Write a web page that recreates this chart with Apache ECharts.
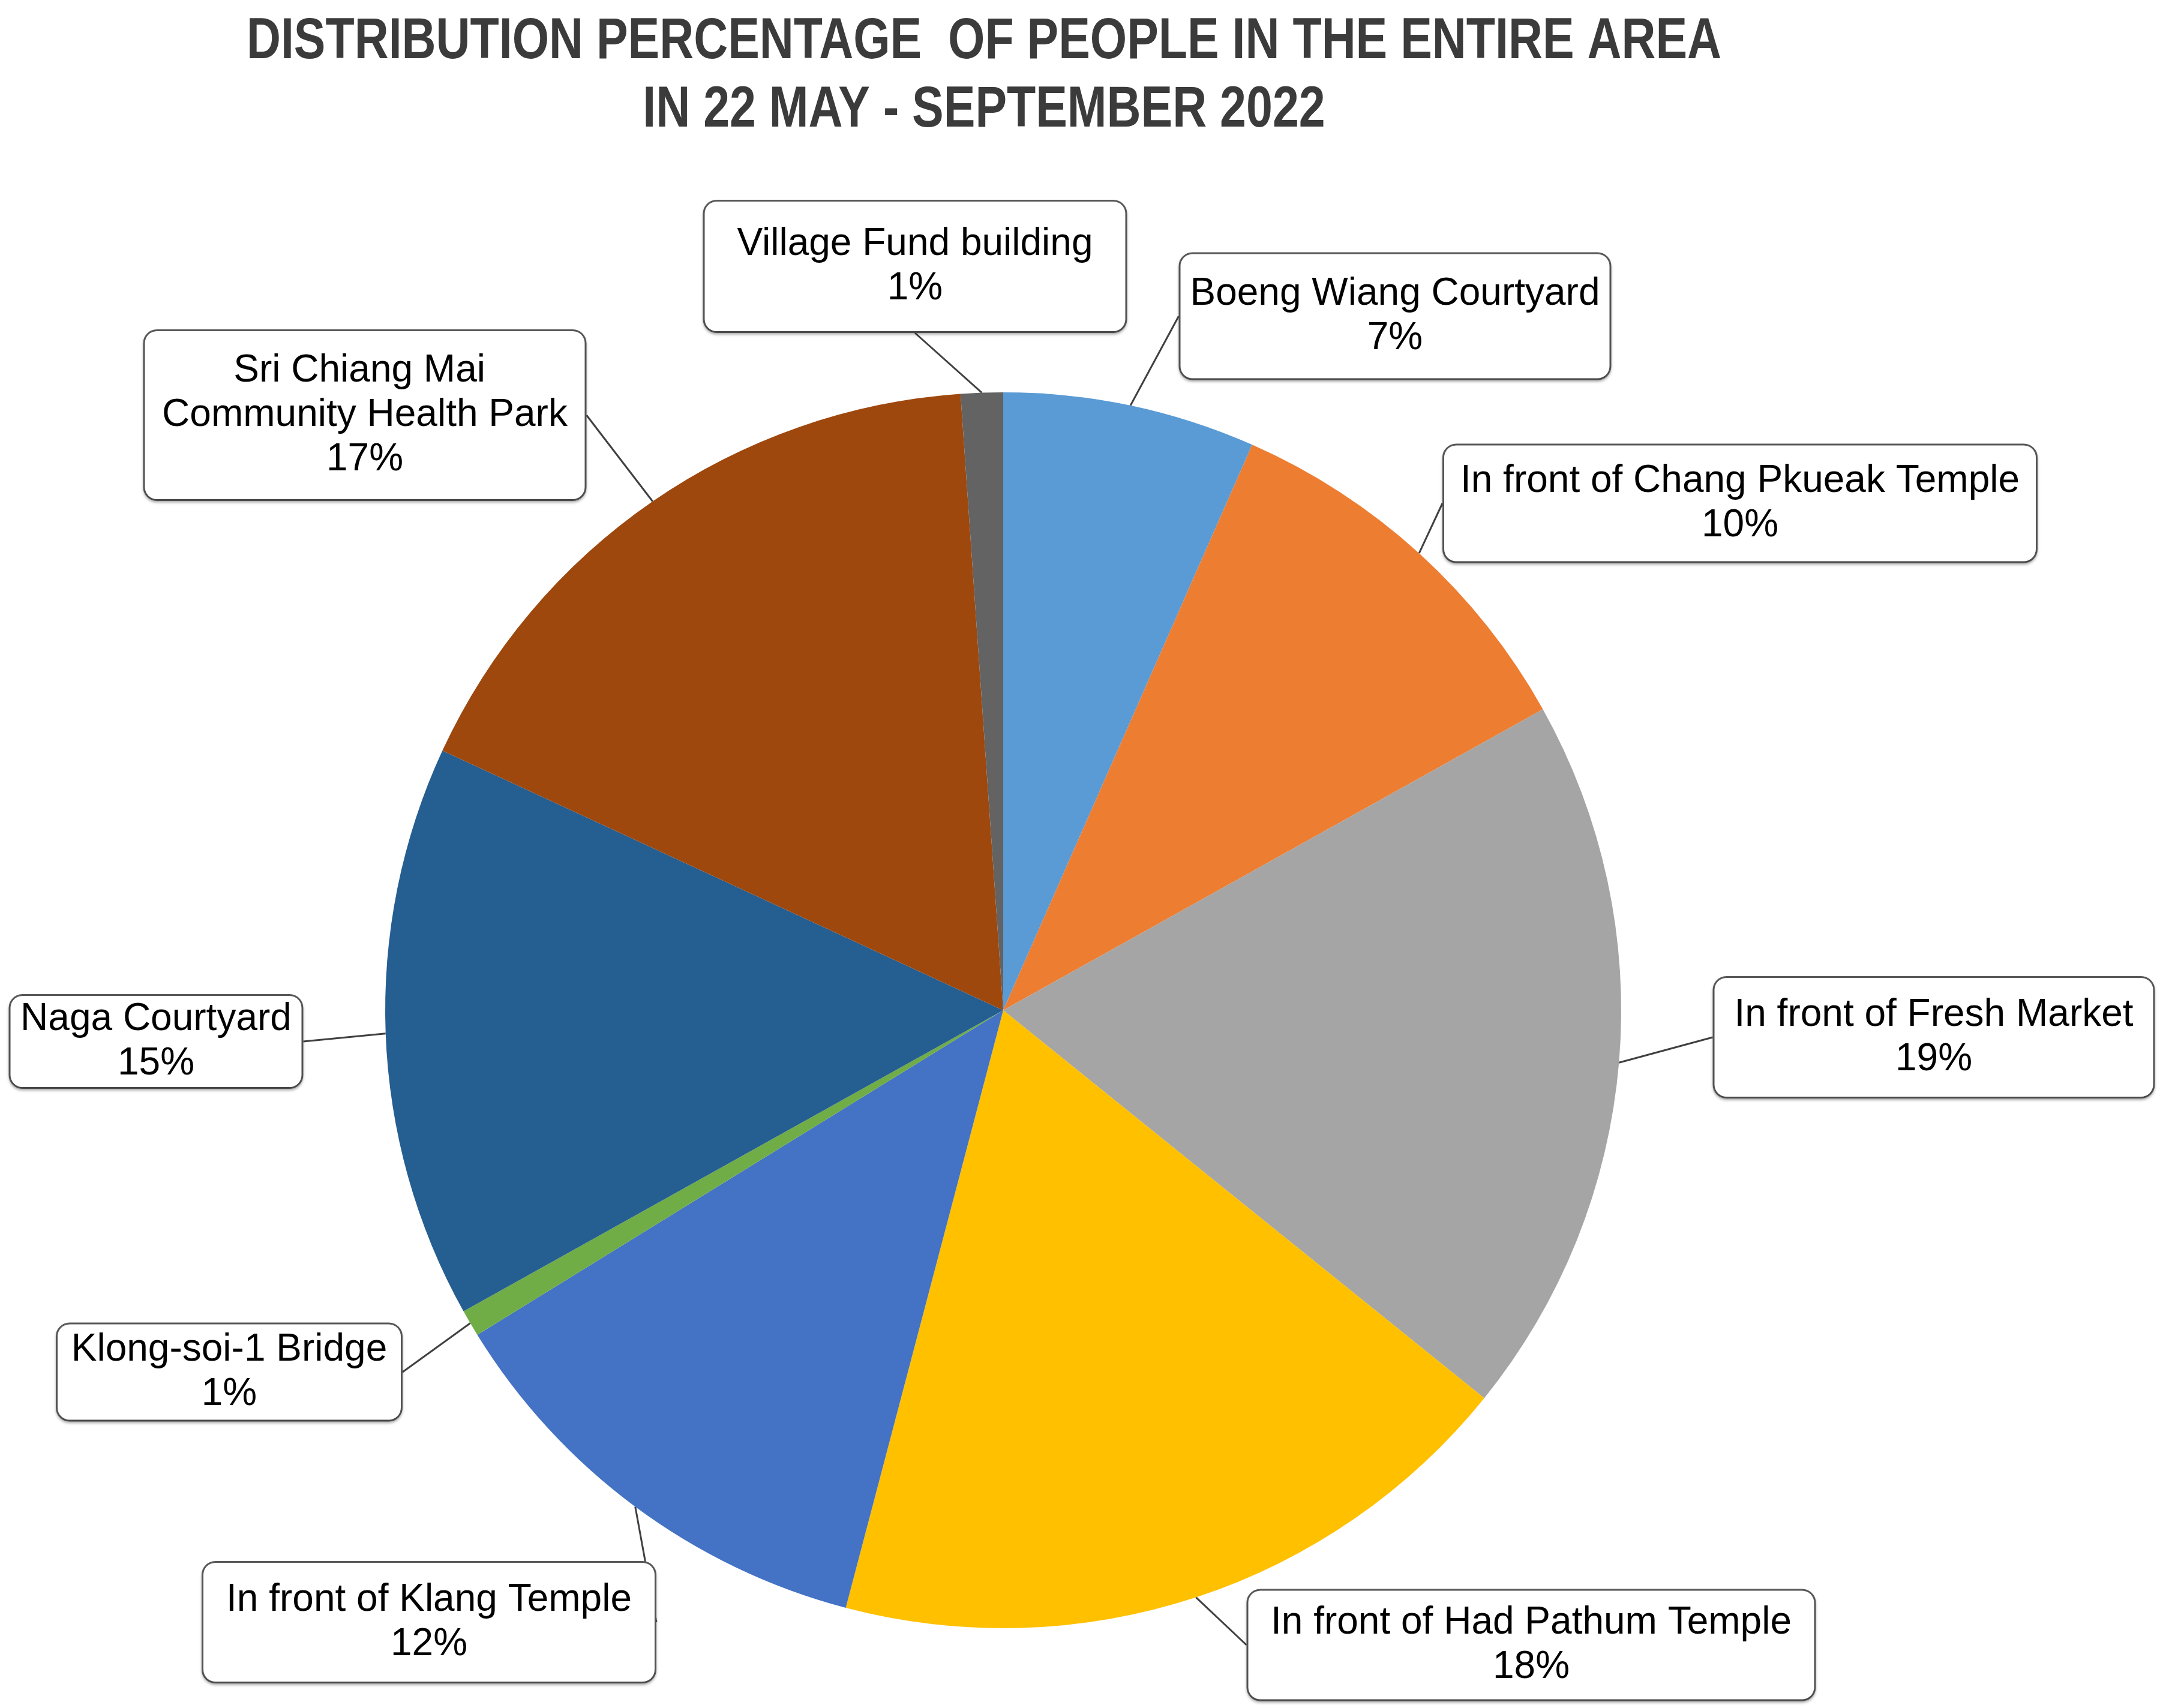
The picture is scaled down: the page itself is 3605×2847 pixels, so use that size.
<!DOCTYPE html>
<html>
<head>
<meta charset="utf-8">
<script src="https://cdn.jsdelivr.net/npm/echarts@6/dist/echarts.min.js"></script>
<style>
  html, body { margin: 0; padding: 0; background: #fff; }
  #chart { width: 3605px; height: 2847px; }
</style>
</head>
<body>
<div id="chart"></div>
<script>
// categories, clockwise from 12 o'clock
const places = [
  'Boeng Wiang Courtyard',
  'In front of Chang Pkueak Temple',
  'In front of Fresh Market',
  'In front of Had Pathum Temple',
  'In front of Klang Temple',
  'Klong-soi-1 Bridge',
  'Naga Courtyard',
  'Sri Chiang Mai Community Health Park',
  'Village Fund building'
];
// share of people (%)
const shares = [6.6, 10.3, 18.9, 18.3, 12.1, 0.7, 15.0, 17.0, 1.1];
const colors = ['#5B9BD5', '#ED7D31', '#A5A5A5', '#FFC000', '#4472C4', '#70AD47', '#255E91', '#9E480E', '#636363'];
const titleLines = ['DISTRIBUTION PERCENTAGE  OF PEOPLE IN THE ENTIRE AREA', 'IN 22 MAY - SEPTEMBER 2022'];

// callout boxes: center x, center y, width, height (px)
const callouts = [
  [2325, 527, 715, 207],
  [2900, 839, 986, 193],
  [3223, 1729, 731, 198],
  [2552, 2742, 943, 181],
  [715, 2704, 752, 198],
  [382, 2287, 572, 159],
  [260, 1736, 485, 152],
  [608, 692, 733, 280],
  [1525, 444, 701, 216]
];

const LH = 74;
const myChart = echarts.init(document.getElementById('chart'));

const data = places.map((name, i) => {
  const box = callouts[i];
  const lines = i === 7 ? 3 : 2;
  const vp = Math.max(0, (box[3] - lines * LH) / 2);
  return {
    name: name,
    value: shares[i],
    label: {
      width: box[2],
      padding: [vp, 0],
      overflow: i === 7 ? 'break' : 'none'
    }
  };
});

const option = {
  backgroundColor: '#ffffff',
  color: colors,
  animation: false,
  graphic: [
    {
      // title font is condensed in the original, squeeze it horizontally
      type: 'text',
      x: 1640,
      y: 14,
      scaleX: 0.822,
      style: {
        text: titleLines.join('\n'),
        align: 'center',
        verticalAlign: 'top',
        fill: '#3b3b3b',
        font: 'bold 96px "Liberation Sans", Arial, sans-serif',
        lineHeight: 114
      }
    }
  ],
  series: [
    {
      name: 'Distribution',
      type: 'pie',
      center: [1672, 1684],
      radius: 1030,
      startAngle: 90,
      clockwise: true,
      avoidLabelOverlap: false,
      itemStyle: { borderWidth: 0 },
      label: {
        show: true,
        formatter: p => p.name + '\n' + Math.round(p.percent) + '%',
        color: '#000',
        fontFamily: '"Liberation Sans", Arial, sans-serif',
        fontSize: 64,
        lineHeight: LH,
        align: 'center',
        backgroundColor: '#fff',
        borderColor: '#595959',
        borderWidth: 3,
        borderRadius: 20,
        shadowColor: 'rgba(0,0,0,0.25)',
        shadowBlur: 4,
        shadowOffsetY: 3
      },
      labelLine: {
        show: true,
        length: 20,
        length2: 0,
        smooth: false,
        lineStyle: { color: '#404040', width: 3 }
      },
      labelLayout: params => {
        const box = callouts[params.dataIndex];
        return { x: box[0], y: box[1], align: 'center', verticalAlign: 'middle' };
      },
      data: data
    }
  ]
};
myChart.setOption(option);
</script>
</body>
</html>
